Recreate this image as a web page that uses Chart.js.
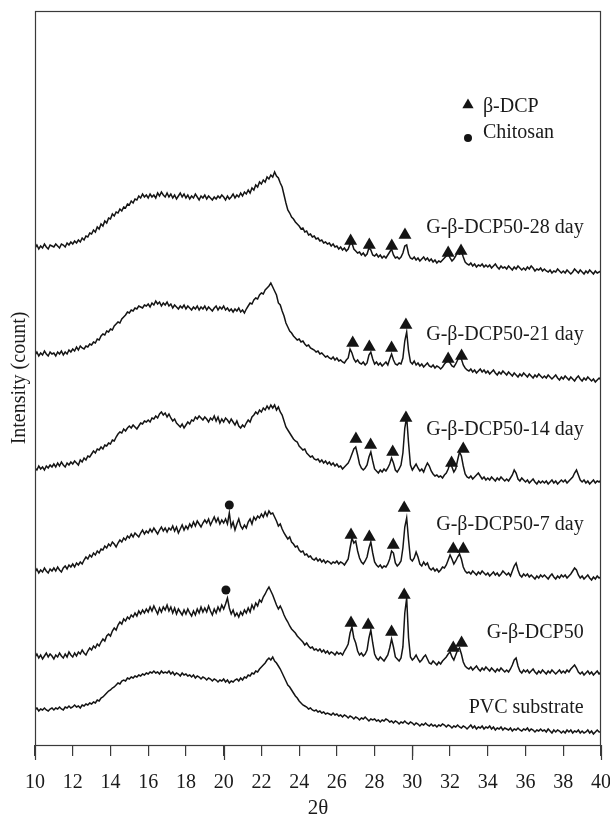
<!DOCTYPE html>
<html>
<head>
<meta charset="utf-8">
<script src="https://cdn.jsdelivr.net/npm/chart.js@4.4.1/dist/chart.umd.min.js"></script>
<style>
  html, body { margin: 0; padding: 0; background: #fff; }
  #wrap { width: 610px; height: 814px; }
</style>
</head>
<body>
<div id="wrap"><canvas id="c" width="610" height="814"></canvas></div>
<script>
// ---- sampling of the 2θ axis ----
const angleStart = 10;
const angleStep = 0.1;
const xTickValues = [10, 12, 14, 16, 18, 20, 22, 24, 26, 28, 30, 32, 34, 36, 38, 40];
const majorTickValues = [10, 20, 30, 40];

// ---- traces (intensity, arbitrary counts, offset-stacked as in the figure), one value per 0.1° from 10 to 40 ----
const day28 = [
495,498,494,497,495,499,496,494,498,497,
496,499,497,495,499,498,496,500,498,501,
499,502,500,503,501,505,503,507,506,510,
509,513,511,516,514,519,517,522,520,525,
524,529,527,531,530,534,532,536,535,539,
538,542,540,544,543,547,545,549,546,548,
545,549,546,548,545,550,547,551,548,546,
550,546,549,545,548,544,547,550,546,549,
545,548,544,547,545,549,546,543,547,545,
548,544,547,545,543,546,544,547,545,548,
546,543,547,544,546,549,545,548,546,550,
547,551,549,553,550,555,553,558,556,561,
559,563,561,566,564,568,566,571,567,565,
560,556,548,540,533,530,526,524,521,519,
517,514,515,511,512,508,509,506,507,504,
505,502,503,500,501,499,500,497,499,496,
497,494,496,493,495,492,494,499,500,494,
492,490,491,488,490,487,489,495,493,488,
487,489,486,488,485,487,485,488,491,494,
488,485,486,484,486,490,497,498,489,485,
484,486,483,485,482,484,486,483,485,482,
484,481,483,480,482,481,483,485,487,489,
485,482,484,487,491,489,492,486,481,479,
478,480,477,479,476,478,477,479,476,478,
476,478,475,477,479,476,474,477,475,476,
474,477,475,473,476,474,477,475,473,475,
473,476,474,477,475,472,474,473,475,472,
474,472,471,473,470,472,471,474,472,470,
472,470,473,471,469,471,474,472,470,473,
471,469,472,470,473,471,469,472,470,471,
472];

const day21 = [
388,391,387,390,388,392,389,387,391,389,
390,387,391,389,392,388,391,389,393,391,
394,392,396,393,397,395,394,397,396,399,
398,401,400,404,403,407,409,408,412,411,
414,413,417,419,421,420,424,426,428,431,
430,433,432,435,434,437,436,435,438,437,
439,436,440,438,442,439,441,437,440,438,
441,437,439,435,438,436,434,437,435,438,
434,437,435,433,436,434,437,433,436,434,
437,433,436,434,432,435,437,433,436,434,
437,433,435,432,434,431,434,432,435,431,
433,430,434,437,440,439,443,445,444,448,
450,449,453,455,457,460,456,452,448,440,
438,432,427,420,416,412,410,407,405,403,
404,401,402,399,397,398,395,394,393,391,
392,389,390,388,386,387,385,384,386,383,
385,382,383,381,380,383,385,394,390,384,
381,383,380,379,381,378,380,388,391,384,
379,381,378,380,377,379,381,378,384,389,
383,379,378,380,379,385,402,411,392,381,
379,382,378,380,377,379,376,378,380,377,
376,378,375,377,376,374,376,379,381,384,
380,377,376,379,383,387,384,378,375,373,
372,374,371,373,370,372,374,371,373,370,
372,369,371,373,370,368,371,369,372,370,
368,371,369,367,370,368,366,369,367,370,
368,366,369,367,365,368,366,369,367,365,
367,365,368,366,364,366,368,365,363,366,
364,367,365,363,366,364,362,365,367,364,
362,365,363,366,364,362,364,361,363,365,
363];

const day14 = [
275,273,277,274,276,273,277,275,278,276,
279,276,280,277,281,278,276,280,278,281,
279,282,280,278,283,281,285,283,287,286,
289,292,290,294,293,296,294,298,297,300,
299,303,302,306,309,311,310,314,312,315,
317,315,318,316,314,317,320,319,322,321,
323,321,325,324,327,325,329,331,328,330,
326,329,325,322,324,320,318,316,319,315,
318,321,319,323,322,326,324,327,325,323,
326,324,321,325,323,327,322,326,320,324,
321,325,323,320,324,321,318,322,317,315,
318,316,320,323,321,326,328,331,329,333,
331,335,333,337,334,338,335,338,333,336,
331,328,322,316,313,310,307,304,302,301,
297,295,293,294,290,288,286,287,284,283,
284,281,283,280,282,279,281,278,280,277,
279,276,277,274,276,278,280,284,289,294,
296,288,279,275,273,275,278,286,291,282,
274,272,270,273,271,274,272,275,279,285,
280,273,271,274,278,290,315,326,300,278,
273,276,279,275,272,274,271,276,280,277,
272,269,267,268,266,267,265,268,270,274,
280,276,271,274,283,291,287,277,269,266,
265,267,264,266,268,270,267,264,266,263,
265,263,266,264,262,265,263,266,264,262,
264,262,265,268,273,270,264,262,265,263,
261,263,260,262,264,261,259,262,260,262,
260,262,259,261,263,260,262,259,261,263,
261,263,260,262,264,266,270,273,268,263,
261,263,260,262,259,261,263,260,262,261,
263];

const day7 = [
171,174,170,173,171,175,172,170,174,172,
175,172,176,173,171,175,177,174,178,176,
179,176,180,178,181,179,183,186,184,188,
186,190,188,192,190,194,193,197,195,199,
197,201,199,196,200,203,201,205,203,207,
205,209,206,210,208,206,210,213,209,212,
210,214,211,215,212,209,213,216,212,215,
211,215,213,217,212,216,210,214,218,213,
217,214,219,216,221,217,222,219,216,220,
223,220,224,218,222,226,221,225,219,223,
220,224,219,230,216,221,213,219,224,217,
214,218,215,221,224,219,226,223,227,225,
229,226,231,227,232,229,230,226,222,217,
219,214,210,207,204,206,201,199,196,197,
193,191,192,188,189,186,187,184,183,185,
182,184,181,183,180,182,181,179,181,180,
182,179,181,180,178,181,184,195,205,200,
202,192,185,181,179,182,186,195,201,190,
181,178,176,178,175,177,176,179,184,192,
190,180,177,179,182,195,216,225,203,184,
182,185,191,186,179,177,181,178,180,175,
173,175,172,174,171,173,176,175,178,183,
188,184,179,182,186,189,184,176,172,170,
171,169,172,170,168,171,169,172,170,168,
170,167,169,171,168,170,167,169,172,170,
168,170,167,172,177,180,173,168,166,169,
167,169,166,168,166,164,167,165,168,166,
168,166,164,167,169,166,164,167,165,168,
166,168,165,167,169,172,175,173,168,165,
167,164,166,168,165,163,166,164,167,165,
166];

const gbdcp50 = [
86,89,85,88,84,87,90,86,89,87,
84,88,86,90,87,85,89,86,91,88,
86,90,87,91,89,93,90,88,92,95,
93,97,95,99,97,101,104,102,107,109,
107,112,115,113,118,121,119,124,122,126,
124,128,126,130,127,132,129,133,130,134,
131,136,132,137,133,129,135,131,136,133,
138,132,136,130,135,129,134,131,128,133,
129,134,130,127,132,128,134,130,136,131,
135,131,137,132,128,134,130,136,132,138,
134,139,145,135,129,133,127,130,126,131,
128,133,130,135,131,138,134,140,137,143,
141,146,149,153,156,152,148,143,138,134,
137,133,128,124,121,117,114,112,110,107,
105,103,101,98,100,97,95,96,93,94,
92,94,91,93,90,92,89,91,90,88,
91,89,90,88,92,95,99,110,116,105,
100,92,88,90,87,89,93,105,113,100,
89,85,83,86,84,82,85,88,95,104,
96,86,84,82,85,96,130,145,105,86,
83,85,88,84,81,83,86,88,84,80,
79,82,80,78,81,79,82,84,86,89,
91,86,83,88,93,95,89,81,77,75,
74,76,73,75,77,74,72,75,73,76,
74,72,75,73,71,74,72,75,73,71,
73,71,74,78,83,85,77,72,70,73,
71,73,70,72,74,71,69,72,70,73,
71,69,72,70,73,71,69,71,73,70,
72,70,73,71,74,76,78,75,71,69,
71,68,70,72,69,71,68,70,72,69,
71];

const pvcSubstrate = [
33,35,32,34,33,35,33,32,34,35,
33,35,34,36,34,33,36,35,37,35,
36,38,36,37,35,38,37,39,38,40,
39,41,40,43,42,45,46,48,50,52,
53,55,56,58,60,59,62,63,62,65,
64,66,65,67,66,68,67,69,68,70,
69,71,70,72,70,71,69,72,70,71,
70,72,69,71,68,70,69,67,70,68,
69,67,68,66,68,65,67,66,64,66,
65,63,65,64,62,64,63,61,63,62,
64,61,63,60,62,61,63,64,62,65,
63,66,65,68,67,70,69,72,71,74,
76,78,80,83,85,83,86,82,80,77,
74,70,66,62,58,56,53,50,47,45,
42,40,38,37,36,34,35,33,32,33,
31,32,30,31,29,30,29,28,30,28,
29,27,28,26,28,27,25,27,26,24,
26,25,23,25,24,26,24,22,24,23,
24,22,23,21,23,22,24,23,21,22,
20,22,21,19,21,20,22,20,19,21,
20,18,20,19,17,19,18,20,18,17,
19,17,18,16,18,17,19,18,16,18,
17,15,17,16,18,16,15,17,16,14,
16,18,15,17,14,16,15,17,14,16,
15,17,14,16,13,15,14,16,13,15,
14,13,15,12,14,13,15,13,12,14,
13,15,12,14,13,11,13,12,14,12,
13,11,14,12,10,13,11,13,12,10,
12,10,13,11,13,10,12,11,13,10,
12,10,11,13,10,12,9,11,13,11,
11];

// ---- β-DCP peak markers (2θ, marker height) ----
const betaAngles28 = [26.73, 27.72, 28.91, 29.61, 31.90, 32.58];
const betaHeights28 = [502, 498, 497, 508, 490, 492];
const betaAngles21 = [26.84, 27.72, 28.90, 29.66, 31.90, 32.61];
const betaHeights21 = [400, 396, 395, 418, 384, 387];
const betaAngles14 = [27.01, 27.79, 28.96, 29.66, 32.08, 32.70];
const betaHeights14 = [304, 298, 291, 325, 280, 294];
const betaAngles7 = [26.75, 27.72, 28.99, 29.57, 32.17, 32.70];
const betaHeights7 = [208, 206, 198, 235, 194, 194];
const betaAngles0 = [26.75, 27.66, 28.90, 29.57, 32.17, 32.61];
const betaHeights0 = [120, 118, 111, 148, 95, 100];

// ---- chitosan peak markers ----
const chitosanAngles = [20.30, 20.12];
const chitosanHeights = [238, 153];

// ---- text ----
const seriesLabels = ['G-β-DCP50-28 day', 'G-β-DCP50-21 day', 'G-β-DCP50-14 day', 'G-β-DCP50-7 day', 'G-β-DCP50', 'PVC substrate'];
const seriesLabelHeights = [515, 408, 313, 218, 110, 35];
const seriesLabelAngle = 39.08;
const legendLabels = ['β-DCP', 'Chitosan'];
const legendAngle = 32.95;
const legendTextAngle = 33.74;
const legendHeights = [638, 605];
const legendTextHeights = [636, 610];

// ---- build ----
const toPoints = vals => vals.map((v, i) => ({ x: +(angleStart + i * angleStep).toFixed(2), y: v }));
const pair = (xs, ys) => xs.map((x, i) => ({ x: x, y: ys[i] }));
const INK = '#141414';
const FONT = "'Liberation Serif', 'Times New Roman', serif";

const traceSet = (data) => ({
  type: 'line', data: toPoints(data), borderColor: INK, borderWidth: 1.5,
  pointRadius: 0, tension: 0, fill: false
});
const markSet = (pts, style, r) => ({
  type: 'scatter', data: pts, pointStyle: style, pointRadius: r, pointHoverRadius: r,
  backgroundColor: INK, borderColor: INK, borderWidth: 0, showLine: false
});

const overlay = {
  id: 'overlay',
  afterDraw(chart) {
    const { ctx, chartArea: a, scales: { x, y } } = chart;
    ctx.save();
    ctx.strokeStyle = '#3a3a3a';
    ctx.lineWidth = 1.2;
    ctx.strokeRect(a.left + 0.5, a.top + 0.5, a.right - a.left - 1, a.bottom - a.top);
    // longer ticks at the decades
    majorTickValues.forEach(v => {
      const px = Math.round(x.getPixelForValue(v)) + 0.5;
      ctx.beginPath();
      ctx.moveTo(px, a.bottom);
      ctx.lineTo(px, a.bottom + 15);
      ctx.stroke();
    });
    ctx.fillStyle = '#1a1a1a';
    ctx.font = '20px ' + FONT;
    ctx.textBaseline = 'middle';
    ctx.textAlign = 'right';
    seriesLabels.forEach((t, i) => {
      ctx.fillText(t, x.getPixelForValue(seriesLabelAngle), y.getPixelForValue(seriesLabelHeights[i]));
    });
    ctx.textAlign = 'left';
    legendLabels.forEach((t, i) => {
      ctx.fillText(t, x.getPixelForValue(legendTextAngle), y.getPixelForValue(legendTextHeights[i]));
    });
    ctx.restore();
  }
};

new Chart(document.getElementById('c'), {
  data: {
    datasets: [
      traceSet(day28), traceSet(day21), traceSet(day14), traceSet(day7), traceSet(gbdcp50), traceSet(pvcSubstrate),
      markSet(pair(betaAngles28, betaHeights28), 'triangle', 7.5),
      markSet(pair(betaAngles21, betaHeights21), 'triangle', 7.5),
      markSet(pair(betaAngles14, betaHeights14), 'triangle', 7.5),
      markSet(pair(betaAngles7, betaHeights7), 'triangle', 7.5),
      markSet(pair(betaAngles0, betaHeights0), 'triangle', 7.5),
      markSet(pair(chitosanAngles, chitosanHeights), 'circle', 4.5),
      markSet([{ x: legendAngle, y: legendHeights[0] }], 'triangle', 6.5),
      markSet([{ x: legendAngle, y: legendHeights[1] }], 'circle', 4)
    ]
  },
  options: {
    responsive: false,
    animation: false,
    events: [],
    layout: { padding: { left: 0, right: 0, top: 11, bottom: 0 } },
    plugins: { legend: { display: false }, tooltip: { enabled: false } },
    scales: {
      x: {
        type: 'linear', min: 10, max: 40,
        afterFit: s => { s.height = 69; s.paddingRight = 9; },
        afterBuildTicks: s => { s.ticks = xTickValues.map(v => ({ value: v })); },
        ticks: { color: '#1a1a1a', font: { family: FONT, size: 20 }, padding: 15, maxRotation: 0, autoSkip: false,
                 callback: v => String(v) },
        grid: { display: true, drawOnChartArea: false, drawTicks: true, tickLength: 11, color: '#3a3a3a', lineWidth: 1.2 },
        border: { display: false },
        title: { display: true, text: '2θ', color: '#1a1a1a', font: { family: FONT, size: 21, lineHeight: 0.55 }, padding: { top: 0, bottom: 0 } }
      },
      y: {
        type: 'linear', min: -2, max: 732,
        afterFit: s => { s.width = 35; },
        ticks: { display: false },
        grid: { display: false },
        border: { display: false },
        title: { display: true, text: 'Intensity (count)', color: '#1a1a1a', font: { family: FONT, size: 20, lineHeight: 1.2 }, padding: { top: 8, bottom: 0 } }
      }
    }
  },
  plugins: [overlay]
});
</script>
</body>
</html>
